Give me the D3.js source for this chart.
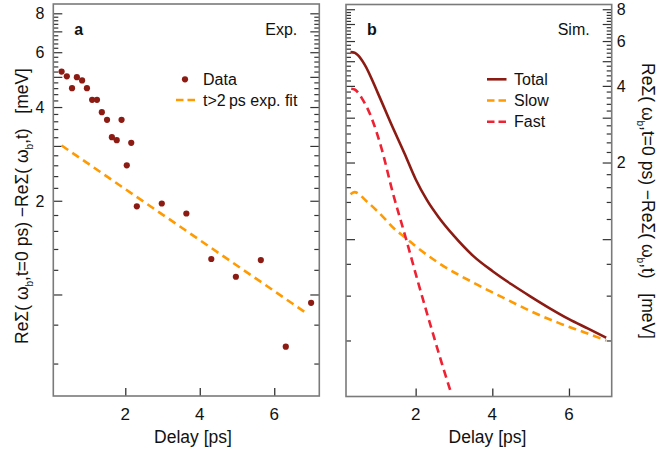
<!DOCTYPE html>
<html><head><meta charset="utf-8">
<script src="https://cdn.jsdelivr.net/npm/d3@7"></script>
<style>
body{margin:0;background:#fff}
svg{display:block}
text{font-family:"Liberation Sans",Arial,Helvetica,sans-serif;fill:#111}
</style>
</head><body>
<svg id="chart" width="658" height="451"></svg>
<script>
// ---------- data ----------
const expDelay = [0.29, 0.43, 0.57, 0.70, 0.84, 0.97, 1.11, 1.24, 1.37, 1.51, 1.64, 1.77, 1.90, 2.04, 2.16, 2.31, 2.98, 3.64, 4.31, 4.97, 5.64, 6.31, 6.99];
const expValue = [5.20, 5.02, 4.60, 4.99, 4.87, 4.60, 4.22, 4.22, 3.85, 3.64, 3.20, 3.13, 3.64, 2.60, 3.07, 1.92, 1.96, 1.82, 1.30, 1.14, 1.29, 0.68, 0.94];
const fitDelay = [0.29, 6.83];
const fitValue = [3.01, 0.877];

const totalDelay = [0.30, 0.41, 0.50, 0.67, 1.02, 1.36, 1.71, 2.00, 2.30, 2.60, 3.00, 3.50, 4.00, 4.50, 5.00, 5.50, 6.00, 6.50, 6.97];
const totalValue = [5.43, 5.40, 5.27, 4.85, 3.73, 2.84, 2.17, 1.72, 1.42, 1.22, 1.03, 0.86, 0.75, 0.665, 0.595, 0.535, 0.485, 0.445, 0.41];
const slowDelay  = [0.30, 0.40, 0.74, 1.02, 1.50, 1.71, 2.03, 2.58, 3.63, 4.32, 5.02, 5.71, 6.41, 6.97];
const slowValue  = [1.50, 1.53, 1.40, 1.28, 1.08, 1.02, 0.93, 0.81, 0.66, 0.585, 0.52, 0.47, 0.43, 0.40];
const fastDelay  = [0.32, 0.41, 0.63, 0.84, 1.10, 1.41, 1.76, 2.06, 2.41, 2.67, 2.91];
const fastValue  = [3.90, 3.87, 3.51, 3.02, 2.30, 1.51, 0.99, 0.68, 0.447, 0.33, 0.253];

const xTickLabels = [2, 4, 6];
const yTickLabels = [2, 4, 6, 8];
const legendA = ["Data", "t>2\u2009ps exp. fit"];
const legendB = ["Total", "Slow", "Fast"];

// ---------- styles ----------
const C = {dark:"#8c1c13", orange:"#ff9a00", red:"#ee2233", frame:"#7a7a7a", tick:"#333"};
const svg = d3.select("#chart");

function panel(cfg){
  const x = d3.scaleLinear().domain(cfg.xd).range([cfg.x0, cfg.x1]);
  const y = d3.scaleLog().domain(cfg.yd).range([cfg.y1, cfg.y0]);
  const g = svg.append("g");
  const yt = d3.range(2, 41).map(i => +(i*0.2).toFixed(1)).filter(v => v >= cfg.yd[0] && v <= cfg.yd[1]);
  const isMaj = v => Math.abs(v - Math.round(v)) < 1e-6;
  g.append("g").call(d3.axisRight(y).tickValues(yt).tickFormat("").tickSizeOuter(0))
    .attr("transform", `translate(${cfg.x0},0)`)
    .call(a => { a.select(".domain").remove();
      a.selectAll(".tick line").attr("x2", d => isMaj(d) ? 9 : 5).attr("stroke", C.tick).attr("stroke-width", 1.2); });
  g.append("g").call(d3.axisLeft(y).tickValues(yt).tickFormat("").tickSizeOuter(0))
    .attr("transform", `translate(${cfg.x1},0)`)
    .call(a => { a.select(".domain").remove();
      a.selectAll(".tick line").attr("x2", d => isMaj(d) ? -9 : -5).attr("stroke", C.tick).attr("stroke-width", 1.2); });
  g.append("g").call(d3.axisTop(x).tickValues(xTickLabels).tickFormat("").tickSize(8).tickSizeOuter(0))
    .attr("transform", `translate(0,${cfg.y1})`)
    .call(a => { a.select(".domain").remove(); a.selectAll(".tick line").attr("stroke", C.tick).attr("stroke-width", 1.3); });
  g.selectAll(".xl").data(xTickLabels).enter().append("text")
    .attr("x", d => x(d)).attr("y", 419.5).attr("text-anchor", "middle").attr("font-size", 17).text(d => d);
  g.selectAll(".yl").data(yTickLabels).enter().append("text")
    .attr("x", cfg.labelSide === "left" ? cfg.x0 - 9 : cfg.x1 + 5)
    .attr("y", d => y(d)).attr("dy", "0.36em")
    .attr("text-anchor", cfg.labelSide === "left" ? "end" : "start")
    .attr("font-size", 16).text(d => d);
  g.append("text").attr("x", cfg.xTitleX).attr("y", 443).attr("text-anchor", "middle")
    .attr("font-size", 17.5).text("Delay [ps]");
  g.append("rect").attr("x", cfg.x0).attr("y", cfg.y0).attr("width", cfg.x1 - cfg.x0).attr("height", cfg.y1 - cfg.y0)
    .attr("fill", "none").attr("stroke", C.frame).attr("stroke-width", 1.6);
  g.append("text").attr("x", cfg.x0 + 21).attr("y", 35).attr("font-size", 16).attr("font-weight", "bold").text(cfg.letter);
  g.append("text").attr("x", cfg.x1 - 22).attr("y", 35).attr("font-size", 16).attr("text-anchor", "end").text(cfg.tag);
  return {x, y, g};
}

function yTitle(x, y, rot){
  const t = svg.append("text").attr("transform", `translate(${x},${y}) rotate(${rot})`)
    .attr("text-anchor", "middle").attr("dy", "0.35em").attr("font-size", 17.5).style("white-space", "pre");
  t.append("tspan").text("Re\u03A3( \u03C9");
  t.append("tspan").attr("font-size", 10).attr("dy", 5).text("b");
  t.append("tspan").attr("dy", -5).text(",t=0 ps) \u2212Re\u03A3( \u03C9");
  t.append("tspan").attr("font-size", 10).attr("dy", 5).text("b");
  t.append("tspan").attr("dy", -5).text(",t)   [meV]");
}

// ---------- panel a ----------
const A = panel({x0:53.3, x1:319.3, y0:4, y1:396, xd:[0.067, 7.21], yd:[0.472, 8.57],
  labelSide:"left", xTitleX:193, letter:"a", tag:"Exp."});
const lineA = d3.line().x(d => A.x(d[0])).y(d => A.y(d[1]));
A.g.append("path").datum(fitDelay.map((d,i) => [d, fitValue[i]])).attr("d", lineA)
  .attr("fill", "none").attr("stroke", C.orange).attr("stroke-width", 2.6).attr("stroke-dasharray", "8,5");
A.g.selectAll(".dot").data(expDelay.map((d,i) => [d, expValue[i]])).enter().append("circle")
  .attr("cx", d => A.x(d[0])).attr("cy", d => A.y(d[1])).attr("r", 3.1).attr("fill", C.dark);
A.g.append("circle").attr("cx", 185).attr("cy", 79.3).attr("r", 3.1).attr("fill", C.dark);
A.g.append("line").attr("x1", 176).attr("x2", 195).attr("y1", 100).attr("y2", 100)
  .attr("stroke", C.orange).attr("stroke-width", 2.6).attr("stroke-dasharray", "7.5,4");
legendA.forEach((s,i) => A.g.append("text").attr("x", 203).attr("y", 79.3 + i*21).attr("dy", "0.36em").attr("font-size", 16).text(s));

// ---------- panel b ----------
const B = panel({x0:346, x1:611.7, y0:4.5, y1:396.5, xd:[0.183, 7.115], yd:[0.241, 8.35],
  labelSide:"right", xTitleX:487.5, letter:"b", tag:"Sim."});
const lineB = d3.line().x(d => B.x(d[0])).y(d => B.y(d[1])).curve(d3.curveMonotoneX);
const series = [
  {t:slowDelay, v:slowValue, color:C.orange, dash:"8,5"},
  {t:fastDelay, v:fastValue, color:C.red, dash:"8,5"},
  {t:totalDelay, v:totalValue, color:C.dark, dash:null}
];
series.forEach(s => {
  B.g.append("path").datum(s.t.map((d,i) => [d, s.v[i]])).attr("d", lineB)
    .attr("fill", "none").attr("stroke", s.color).attr("stroke-width", 2.6)
    .attr("stroke-dasharray", s.dash);
});
const legCols = [C.dark, C.orange, C.red];
legendB.forEach((s,i) => {
  const yy = 79.3 + i*21.2;
  B.g.append("line").attr("x1", 487).attr("x2", 506.5).attr("y1", yy).attr("y2", yy)
    .attr("stroke", legCols[i]).attr("stroke-width", 2.6).attr("stroke-dasharray", i === 0 ? null : "7.5,4");
  B.g.append("text").attr("x", 514).attr("y", yy).attr("dy", "0.36em").attr("font-size", 16).text(s);
});

yTitle(21.5, 206, -90);
yTitle(648, 201, 90);
</script>
</body></html>
